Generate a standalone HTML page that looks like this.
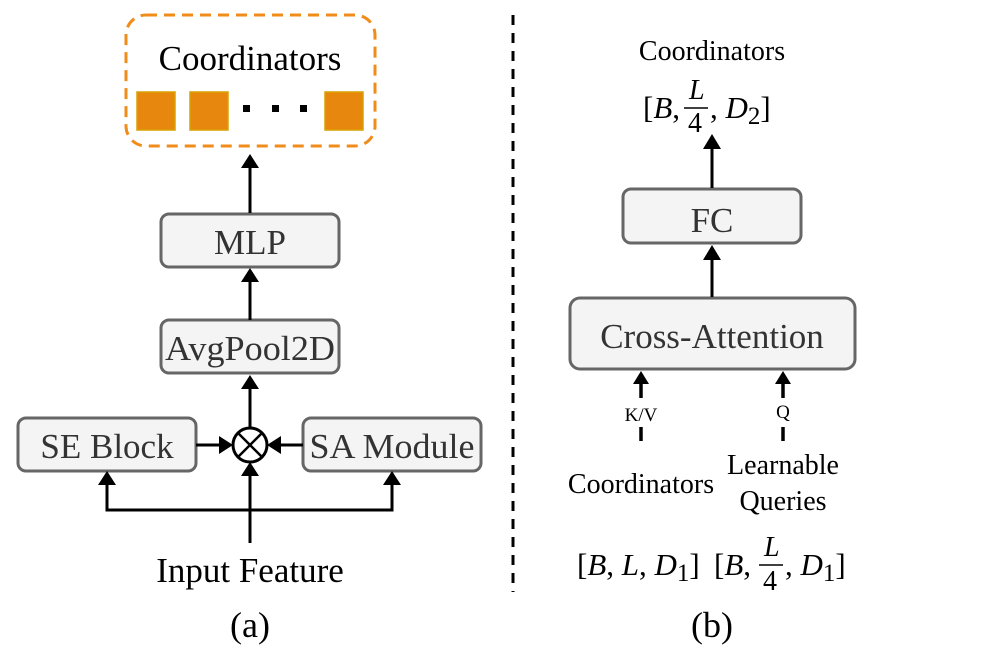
<!DOCTYPE html>
<html><head><style>body{margin:0;background:#fff}svg{display:block}text{font-family:"Liberation Serif",serif}</style></head><body>
<svg width="997" height="666" viewBox="0 0 997 666" xmlns="http://www.w3.org/2000/svg" font-family="Liberation Serif, serif">
<rect x="126" y="15" width="249" height="131" rx="20" fill="none" stroke="#f08c1a" stroke-width="3" stroke-dasharray="11,7"/>
<text x="250" y="70" font-size="35" text-anchor="middle">Coordinators</text>
<g fill="#e8870e" stroke="#d8a000" stroke-width="1.5"><rect x="137" y="92" width="38" height="38"/><rect x="190" y="92" width="38" height="38"/><rect x="325" y="92" width="38" height="38"/></g>
<g fill="#000"><rect x="243" y="105" width="7" height="7"/><rect x="272" y="105" width="7" height="7"/><rect x="300" y="105" width="7" height="7"/></g>
<g fill="#f4f4f4" stroke="#666" stroke-width="3">
<rect x="161" y="214" width="178" height="53" rx="8"/>
<rect x="161" y="320" width="178" height="53" rx="8"/>
<rect x="18" y="418" width="178" height="53" rx="8"/>
<rect x="303" y="418" width="178" height="53" rx="8"/>
<rect x="623" y="189" width="178" height="54" rx="8"/>
<rect x="570" y="298" width="285" height="71" rx="10"/>
</g>
<g font-size="35" fill="#333" text-anchor="middle">
<text x="250" y="254">MLP</text>
<text x="250" y="360" textLength="170" lengthAdjust="spacingAndGlyphs">AvgPool2D</text>
<text x="107" y="458">SE Block</text>
<text x="392" y="458" textLength="165" lengthAdjust="spacingAndGlyphs">SA Module</text>
<text x="712" y="232">FC</text>
<text x="712" y="348">Cross-Attention</text>
</g>
<g stroke="#000" stroke-width="3" fill="none">
<line x1="250" y1="213" x2="250" y2="163"/>
<line x1="250" y1="320" x2="250" y2="278"/>
<line x1="250" y1="428" x2="250" y2="385"/>
<line x1="196" y1="445" x2="224" y2="445"/>
<line x1="303" y1="445" x2="276" y2="445"/>
<polyline points="107,482 107,510 392,510 392,482"/>
<line x1="250" y1="543" x2="250" y2="472"/>
<circle cx="250" cy="445" r="17"/>
<line x1="238" y1="433" x2="262" y2="457" stroke-width="2.5"/>
<line x1="262" y1="433" x2="238" y2="457" stroke-width="2.5"/>
<line x1="712" y1="188" x2="712" y2="146"/>
<line x1="712" y1="297" x2="712" y2="256"/>
<line x1="641" y1="398" x2="641" y2="380" stroke-width="3.5"/>
<line x1="783" y1="398" x2="783" y2="380" stroke-width="3.5"/>
<line x1="641" y1="427" x2="641" y2="441" stroke-width="3.5"/>
<line x1="783" y1="427" x2="783" y2="441" stroke-width="3.5"/>
<line x1="513" y1="15" x2="513" y2="592" stroke-dasharray="10,8"/>
</g>
<g fill="#000">
<path d="M250,154 l-9,14 h18z"/>
<path d="M250,268 l-9,14 h18z"/>
<path d="M250,375 l-9,14 h18z"/>
<path d="M233,445 l-14,-9 v18z"/>
<path d="M267,445 l14,-9 v18z"/>
<path d="M107,471 l-9,14 h18z"/>
<path d="M392,471 l-9,14 h18z"/>
<path d="M250,462 l-9,14 h18z"/>
<path d="M712,134 l-9,15 h18z"/>
<path d="M712,245 l-9,15 h18z"/>
<path d="M641,371 l-8,13 h16z"/>
<path d="M783,371 l-8,13 h16z"/>
</g>
<g text-anchor="middle" fill="#000">
<text x="250" y="582" font-size="35">Input Feature</text>
<text x="250" y="637" font-size="36">(a)</text>
<text x="712" y="637" font-size="36">(b)</text>
<text x="712" y="60" font-size="28">Coordinators</text>
<text x="641" y="421" font-size="19">K/V</text>
<text x="783" y="418" font-size="19">Q</text>
<text x="641" y="493" font-size="28">Coordinators</text>
<text x="783" y="474" font-size="28">Learnable</text>
<text x="783" y="510" font-size="28">Queries</text>
</g>
<g font-size="31" fill="#000">
<text x="643" y="118">[<tspan font-style="italic">B</tspan>,</text>
<text x="689" y="99" font-style="italic" font-size="28">L</text>
<line x1="684" y1="108" x2="708" y2="108" stroke="#000" stroke-width="1.5"/>
<text x="688" y="132" font-size="28">4</text>
<text x="710" y="118">, <tspan font-style="italic">D</tspan><tspan font-size="25" dy="6">2</tspan><tspan dy="-6">]</tspan></text>
<text x="577" y="575">[<tspan font-style="italic">B</tspan>, <tspan font-style="italic">L</tspan>, <tspan font-style="italic">D</tspan><tspan font-size="25" dy="6">1</tspan><tspan dy="-6">]</tspan></text>
<text x="714" y="575">[<tspan font-style="italic">B</tspan>,</text>
<text x="764" y="556" font-style="italic" font-size="28">L</text>
<line x1="759" y1="565" x2="783" y2="565" stroke="#000" stroke-width="1.5"/>
<text x="763" y="590" font-size="28">4</text>
<text x="785" y="575">, <tspan font-style="italic">D</tspan><tspan font-size="25" dy="6">1</tspan><tspan dy="-6">]</tspan></text>
</g>
</svg>
</body></html>
